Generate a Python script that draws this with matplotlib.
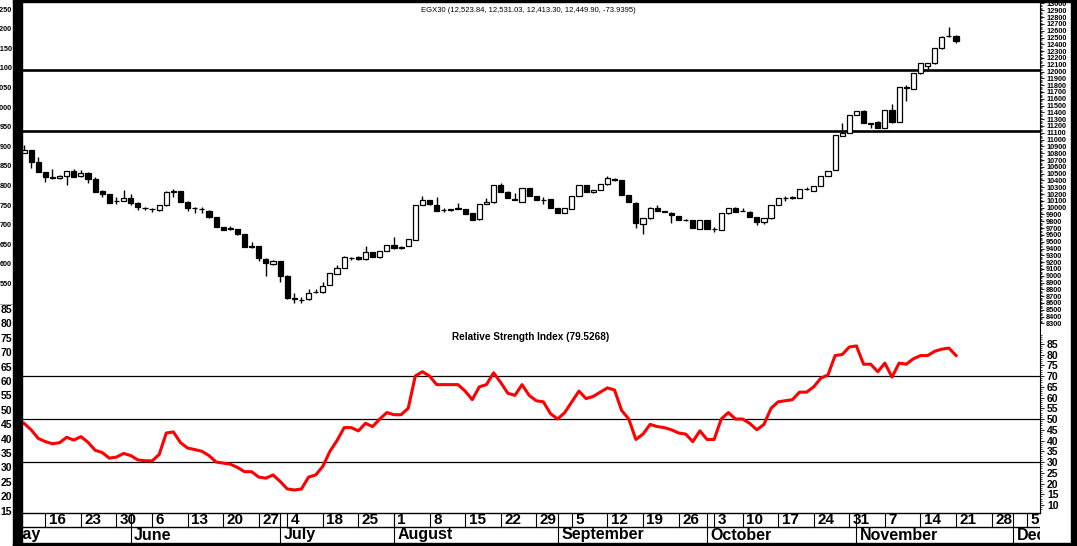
import numpy as np
import matplotlib
matplotlib.use("Agg")
import matplotlib.pyplot as plt
from matplotlib.patches import Rectangle
from matplotlib.transforms import offset_copy

W, H = 1077, 546

# daily candles (open, high, low, close), EGX30
opens = [10810, 10850, 10665, 10520, 10430, 10430, 10470, 10545, 10465, 10515,
         10415, 10250, 10200, 10100, 10100, 10140, 10075, 9995, 9985, 9965,
         10035, 10235, 10240, 10090, 9995, 9980, 9955, 9860, 9710, 9690,
         9685, 9610, 9425, 9435, 9245, 9175, 9215, 9000, 8660, 8645,
         8655, 8755, 8755, 8865, 9025, 9120, 9260, 9280, 9240, 9345,
         9270, 9370, 9450, 9415, 9435, 9530, 10040, 10115, 10040, 9960,
         9970, 9985, 9980, 9915, 9830, 10055, 10080, 10330, 10235, 10125,
         10090, 10285, 10170, 10115, 10125, 9990, 9920, 9980, 10170, 10330,
         10225, 10260, 10345, 10425, 10400, 10185, 10075, 9760, 9845, 9990,
         9945, 9925, 9880, 9820, 9820, 9690, 9820, 9690, 9675, 9915,
         10000, 9955, 9940, 9860, 9785, 9845, 10040, 10135, 10145, 10145,
         10270, 10250, 10320, 10465, 10555, 11060, 11095, 11360, 11425, 11240,
         11265, 11170, 11435, 11265, 11765, 11745, 11975, 12085, 12120, 12340,
         12515, 12523.84]
highs = [10920, 10850, 10740, 10525, 10565, 10480, 10545, 10565, 10555, 10530,
         10445, 10260, 10205, 10160, 10260, 10200, 10080, 10005, 9995, 10040,
         10245, 10270, 10245, 10095, 10005, 10005, 9960, 9865, 9715, 9735,
         9690, 9615, 9500, 9440, 9255, 9225, 9220, 9005, 8740, 8685,
         8800, 8800, 8910, 9045, 9160, 9290, 9280, 9285, 9435, 9350,
         9370, 9455, 9575, 9440, 9540, 10045, 10170, 10120, 10150, 10000,
         9985, 10065, 9985, 9920, 10055, 10140, 10335, 10365, 10240, 10210,
         10290, 10290, 10175, 10150, 10130, 9995, 9995, 10175, 10335, 10335,
         10265, 10350, 10470, 10430, 10405, 10190, 10080, 9850, 10005, 10040,
         9955, 9930, 9885, 9830, 9825, 9820, 9825, 9720, 9920, 9995,
         10005, 10000, 9945, 9865, 9850, 10045, 10140, 10170, 10165, 10275,
         10300, 10320, 10470, 10545, 11070, 11240, 11365, 11425, 11430, 11245,
         11270, 11440, 11525, 11780, 11805, 11975, 12125, 12125, 12345, 12515,
         12650, 12531.03]
lows = [10800, 10590, 10520, 10380, 10425, 10425, 10330, 10450, 10455, 10365,
        10230, 10150, 10070, 10055, 10095, 10040, 9965, 9965, 9940, 9955,
        10030, 10160, 10085, 9955, 9925, 9925, 9855, 9710, 9665, 9670,
        9600, 9425, 9415, 9220, 9000, 9155, 8910, 8665, 8605, 8595,
        8650, 8740, 8740, 8860, 9020, 9115, 9230, 9235, 9235, 9275,
        9265, 9365, 9400, 9390, 9430, 9525, 10035, 10045, 9950, 9930,
        9955, 9980, 9905, 9815, 9825, 10050, 10075, 10230, 10135, 10115,
        10085, 10165, 10110, 10055, 9995, 9915, 9915, 9975, 10165, 10225,
        10220, 10255, 10340, 10395, 10185, 10085, 9695, 9610, 9840, 9950,
        9935, 9770, 9815, 9810, 9695, 9685, 9685, 9645, 9670, 9910,
        9930, 9945, 9865, 9745, 9760, 9840, 10035, 10100, 10130, 10140,
        10260, 10245, 10315, 10460, 10550, 11055, 11090, 11355, 11240, 11165,
        11165, 11165, 11240, 11260, 11570, 11740, 11970, 12035, 12115, 12335,
        12505, 12413.30]
closes = [10850, 10675, 10520, 10455, 10455, 10470, 10545, 10455, 10515, 10415,
          10235, 10200, 10075, 10095, 10140, 10075, 10005, 9990, 9980, 10035,
          10235, 10240, 10090, 10000, 9990, 9975, 9860, 9710, 9670, 9695,
          9615, 9425, 9430, 9255, 9185, 9215, 9000, 8670, 8665, 8640,
          8750, 8760, 8855, 9035, 9120, 9280, 9255, 9240, 9345, 9280,
          9370, 9450, 9410, 9420, 9535, 10040, 10115, 10050, 9955, 9965,
          9975, 9990, 9905, 9820, 10055, 10090, 10330, 10235, 10140, 10120,
          10285, 10170, 10115, 10110, 10000, 9920, 9990, 10170, 10330, 10225,
          10260, 10345, 10430, 10400, 10185, 10090, 9770, 9845, 10000, 9955,
          9940, 9895, 9820, 9815, 9700, 9820, 9690, 9685, 9915, 9990,
          9935, 9950, 9870, 9795, 9845, 10040, 10135, 10140, 10150, 10270,
          10275, 10320, 10465, 10545, 11070, 11095, 11360, 11425, 11240, 11235,
          11170, 11435, 11265, 11775, 11760, 11975, 12120, 12120, 12340, 12510,
          12520, 12449.90]

rsi = [48, 45, 41, 39.5, 38.5, 39, 41.5, 40.2, 41.8, 39.2,
       35.5, 34.4, 31.8, 32.3, 34, 33, 31, 30.6, 30.5, 33.5,
       43.5, 44, 39, 36.5, 35.8, 35, 33, 30, 29.5, 29,
       27.5, 25.5, 25.5, 23, 22.5, 24, 21, 17.5, 17, 17.5,
       23, 24, 28, 35, 40, 46, 46, 44.5, 48, 46.5,
       50, 53, 52, 52, 55, 70, 72, 70, 66, 66,
       66, 66, 63, 59, 65, 66, 71.5, 67, 62, 61,
       66, 61, 58.5, 58, 52.5, 50, 53, 58, 63, 59.5,
       60.5, 62.5, 64.5, 63.5, 54, 50, 40.5, 43, 47.5, 46.5,
       46, 45, 43.5, 43, 39.5, 44.5, 40.5, 40.5, 50, 53,
       50, 50, 48, 45, 47.5, 55, 58, 58.5, 59, 62.5,
       62.5, 65, 69, 70.5, 79.5, 80, 83.5, 84, 75.5, 75.5,
       72, 76, 69.5, 76, 75.5, 78, 79.5, 79.5, 81.5, 82.5,
       83, 79.5268]

week_idx = [3, 8, 13, 18, 23, 28, 33, 37, 42, 47, 52, 57, 62, 67, 72, 77, 82,
            87, 92, 97, 101, 106, 111, 116, 121, 126, 131, 136, 141]
week_lbl = ['16', '23', '30', '6', '13', '20', '27', '4', '18', '25', '1', '8',
            '15', '22', '29', '5', '12', '19', '26', '3', '10', '17', '24', '31',
            '7', '14', '21', '28', '5']
month_idx = [-2.5, 15, 36, 52, 75, 96, 117, 139]
month_lbl = ['May', 'June', 'July', 'August', 'September', 'October',
             'November', 'December']

price_lines = [12030, 11120]
rsi_lines = [70, 50, 30]
left_price_lbl = ['1250', '1200', '1150', '1100', '1050', '1000', '950', '900',
                  '850', '800', '750', '700', '650', '600', '550']
left_rsi_lbl = ['85', '80', '75', '70', '65', '60', '55', '50', '45', '40',
                '35', '30', '25', '20', '15']

plt.rcParams['font.family'] = ['Liberation Sans', 'DejaVu Sans']

fig = plt.figure(figsize=(W / 100, H / 100), dpi=100)
fig.patch.set_facecolor('white')


def box(l, t, r, b):
    return [l / W, 1 - b / H, (r - l) / W, (b - t) / H]


x0, x1 = -0.28, 142.8
ax = fig.add_axes(box(22, 3, 1040, 330))
ar = fig.add_axes(box(22, 330, 1040, 513))
ad = fig.add_axes(box(22, 513, 1040, 543))

# ---- candles
n = len(closes)
x = np.arange(n)
for i in range(n):
    o, h, l, c = opens[i], highs[i], lows[i], closes[i]
    ax.vlines(x[i], l, h, color='black', lw=1.0, zorder=2)
    lo = min(o, c)
    ht = max(abs(c - o), 6)
    up = c >= o
    ax.add_patch(Rectangle((x[i] - 0.36, lo), 0.72, ht,
                           facecolor='white' if up else 'black',
                           edgecolor='black', lw=0.9, zorder=3))
for p in price_lines:
    ax.axhline(p, color='black', lw=1.9, zorder=1)

ax.set_xlim(x0, x1)
ax.set_ylim(8203, 13007)
ax.yaxis.tick_right()
ax.set_yticks(np.arange(8300, 13001, 100))
ax.set_yticks(np.arange(8300, 13001, 20), minor=True)
ax.tick_params(axis='y', which='major', length=3, width=0.6, pad=1.5,
               labelsize=5.3)
ax.tick_params(axis='y', which='minor', length=1.5, width=0.5)
for t in ax.get_yticklabels():
    t.set_fontweight('bold')
ax.set_xticks([])
for s in ['left', 'top', 'bottom']:
    ax.spines[s].set_visible(False)
ax.spines['right'].set_linewidth(0.8)
ax.text(0.497, 0.978, 'EGX30 (12,523.84, 12,531.03, 12,413.30, 12,449.90, -73.9395)',
        transform=ax.transAxes, ha='center', va='center', fontsize=5.5)

# ---- RSI
ar.plot(x, rsi, color='#ff0000', lw=2.2, zorder=3, solid_joinstyle='round')
for v in rsi_lines:
    ar.axhline(v, color='black', lw=0.9, zorder=1)
ar.set_xlim(x0, x1)
ar.set_ylim(6.3, 91.4)
ar.yaxis.tick_right()
ar.set_yticks(np.arange(10, 86, 5))
ar.set_yticks(np.arange(8, 90, 1), minor=True)
ar.tick_params(axis='y', which='major', length=3, width=0.6, pad=2,
               labelsize=7.5)
ar.tick_params(axis='y', which='minor', length=1.5, width=0.5)
for t in ar.get_yticklabels():
    t.set_fontweight('bold')
ar.set_xticks([])
for s in ['left', 'top', 'bottom']:
    ar.spines[s].set_visible(False)
ar.spines['right'].set_linewidth(0.8)
ar.text(0.5, 0.96, 'Relative Strength Index (79.5268)', transform=ar.transAxes,
        ha='center', va='center', fontsize=7.2, fontweight='bold')

# ---- date strip
ad.set_xlim(x0, x1)
ad.set_ylim(0, 1)
ad.axis('off')
mid = 16 / 30
shift = offset_copy(ad.transData, fig=fig, x=2.5, y=0, units='points')
ad.axhline(1, color='black', lw=1.0, clip_on=False)
ad.axhline(mid, color='black', lw=1.0)
for xi, lb in zip(week_idx, week_lbl):
    ad.plot([xi, xi], [mid, 1], color='black', lw=0.8)
    ad.text(xi, (1 + mid) / 2, lb, transform=shift, ha='left', va='center',
            fontsize=11, fontweight='bold', clip_on=True)
for xi, lb in zip(month_idx, month_lbl):
    ad.plot([xi, xi], [0, 1], color='black', lw=0.8)
    ad.text(xi, mid / 2, lb, transform=shift, ha='left', va='center',
            fontsize=11.5, fontweight='bold', clip_on=True)

# ---- cut-off labels of the left column
for k, lb in enumerate(left_price_lbl):
    fig.text(12 / W, 1 - (10 + 19.6 * k) / H, lb, ha='right', va='center',
             fontsize=5.2, fontweight='bold')
for k, lb in enumerate(left_rsi_lbl):
    fig.text(12 / W, 1 - (310 + 14.4 * k) / H, lb, ha='right', va='center',
             fontsize=7.5, fontweight='bold')
fig.add_artist(plt.Line2D([0, 13 / W], [1 - 304 / H, 1 - 304 / H],
                          color='#999999', lw=0.6, transform=fig.transFigure))

# ---- black frame
for l, t, r, b in [(13, 0, 22, 546), (1071, 0, 1077, 546),
                   (13, 0, 1077, 2), (13, 543, 1077, 546)]:
    fig.add_artist(Rectangle((l / W, 1 - b / H), (r - l) / W, (b - t) / H,
                             transform=fig.transFigure, color='black', zorder=10))

fig.savefig('out.png', dpi=100, facecolor='white')
